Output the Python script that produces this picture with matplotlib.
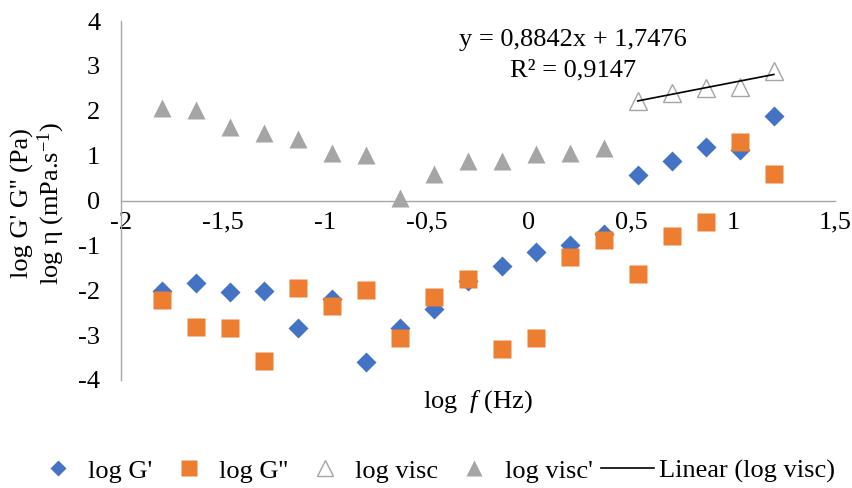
import numpy as np
import matplotlib.pyplot as plt
from matplotlib.lines import Line2D
from matplotlib.legend_handler import HandlerLine2D
from matplotlib.ticker import FuncFormatter

plt.rcParams['font.family'] = ['Liberation Serif', 'DejaVu Serif']
plt.rcParams['mathtext.fontset'] = 'custom'
plt.rcParams['mathtext.rm'] = 'Liberation Serif'
plt.rcParams['mathtext.it'] = 'Liberation Serif:italic'
plt.rcParams['font.size'] = 19

# log frequency (Hz), 6 points per decade
log_f = [-1.8, -1.633, -1.467, -1.3, -1.133, -0.967, -0.8, -0.633, -0.467, -0.3,
         -0.133, 0.033, 0.2, 0.367, 0.533, 0.7, 0.867, 1.033, 1.2]
log_g1 = [-2.02, -1.83, -2.04, -2.01, -2.85, -2.20, -3.60, -2.85, -2.42, -1.80,
          -1.46, -1.14, -1.00, -0.75, 0.56, 0.89, 1.19, 1.12, 1.88]
log_g2 = [-2.21, -2.82, -2.85, -3.58, -1.96, -2.36, -1.99, -3.06, -2.14, -1.76,
          -3.32, -3.06, -1.27, -0.87, -1.63, -0.80, -0.49, 1.30, 0.60]
# low-frequency viscosity (filled) and high-frequency viscosity (open)
log_visc2 = [2.07, 2.02, 1.63, 1.51, 1.37, 1.05, 1.02, 0.06, 0.59, 0.87,
             0.88, 1.04, 1.06, 1.18]
log_visc = [2.22, 2.39, 2.51, 2.54, 2.88]
fit_slope, fit_icpt = 0.8842, 1.7476

BLUE, ORANGE, GRAY = '#4472C4', '#ED7D31', '#A5A5A5'

x = np.array(log_f)
x_v2 = x[:len(log_visc2)]
x_v = x[len(log_visc2):]

fig = plt.figure(figsize=(8.53, 4.88), dpi=100)
ax = fig.add_axes([121/853, 1-380/488, 714/853, 359/488])

ax.plot(x, log_g1, 'D', ms=9.7, color=BLUE, mec='none')
ax.plot(x, log_g2, 's', ms=13.6, color=ORANGE, mec='none')
ax.plot(x_v, log_visc, '^', ms=13.5, mfc='white', mec=GRAY, mew=1.0)
ax.plot(x_v2, log_visc2, '^', ms=13.5, color=GRAY, mec='none')
xx = np.array([x_v[0], x_v[-1]])
ax.plot(xx, fit_slope*xx + fit_icpt, color='black', lw=1.2)

ax.set_xlim(-2, 1.5)
ax.set_ylim(-4, 4)
ax.set_xticks(np.arange(-2, 1.51, 0.5))
ax.set_yticks(np.arange(-4, 4.1, 1))
fmt = FuncFormatter(lambda v, _: ('%g' % v).replace('.', ','))
ax.xaxis.set_major_formatter(fmt)
ax.yaxis.set_major_formatter(fmt)
ax.tick_params(length=0)
ax.tick_params(axis='x', pad=8)
ax.tick_params(axis='y', pad=15)

for s in ['top', 'right']:
    ax.spines[s].set_visible(False)
ax.spines['bottom'].set_position(('data', 0))
for s in ['bottom', 'left']:
    ax.spines[s].set_color('#A6A6A6')
    ax.spines[s].set_linewidth(1.0)

fig.text(573/853, 1-40/488, 'y = 0,8842x + 1,7476', ha='center', va='center')
fig.text(573/853, 1-70/488, 'R² = 0,9147', ha='center', va='center')

fig.text(478/853, 1-402/488, r'log  $\mathit{f}$ (Hz)', ha='center', va='center')
fig.text(39/853, 1-203/488, "log G' G'' (Pa)\nlog η (mPa.s$^{-1}$)",
         rotation=90, ha='center', va='center', multialignment='center',
         linespacing=1.05)


class LongLine(HandlerLine2D):
    # Excel draws the trendline legend sample wider than a marker slot
    def create_artists(self, legend, orig, xdescent, ydescent, width, height,
                       fontsize, trans):
        left, right = 0.55*fontsize, 0.45*fontsize
        return super().create_artists(legend, orig, xdescent + left, ydescent,
                                      width + left + right, height, fontsize, trans)


h_line = Line2D([], [], color='black', lw=1.2)
handles = [
    Line2D([], [], ls='none', marker='D', ms=8.2, color=BLUE, mec='none'),
    Line2D([], [], ls='none', marker='s', ms=11.8, color=ORANGE, mec='none'),
    Line2D([], [], ls='none', marker='^', ms=12, mfc='white', mec=GRAY),
    Line2D([], [], ls='none', marker='^', ms=12, color=GRAY, mec='none'),
    h_line,
]
labels = ["log G'", "log G''", 'log visc', "log visc'", 'Linear (log visc)']
fig.legend(handles, labels, loc='center', bbox_to_anchor=(440/853, 1-471/488),
           ncol=5, frameon=False, handlelength=1.0, handletextpad=0.65,
           columnspacing=0.88, handler_map={h_line: LongLine()})

fig.savefig('out.png', dpi=100)
plt.close(fig)
